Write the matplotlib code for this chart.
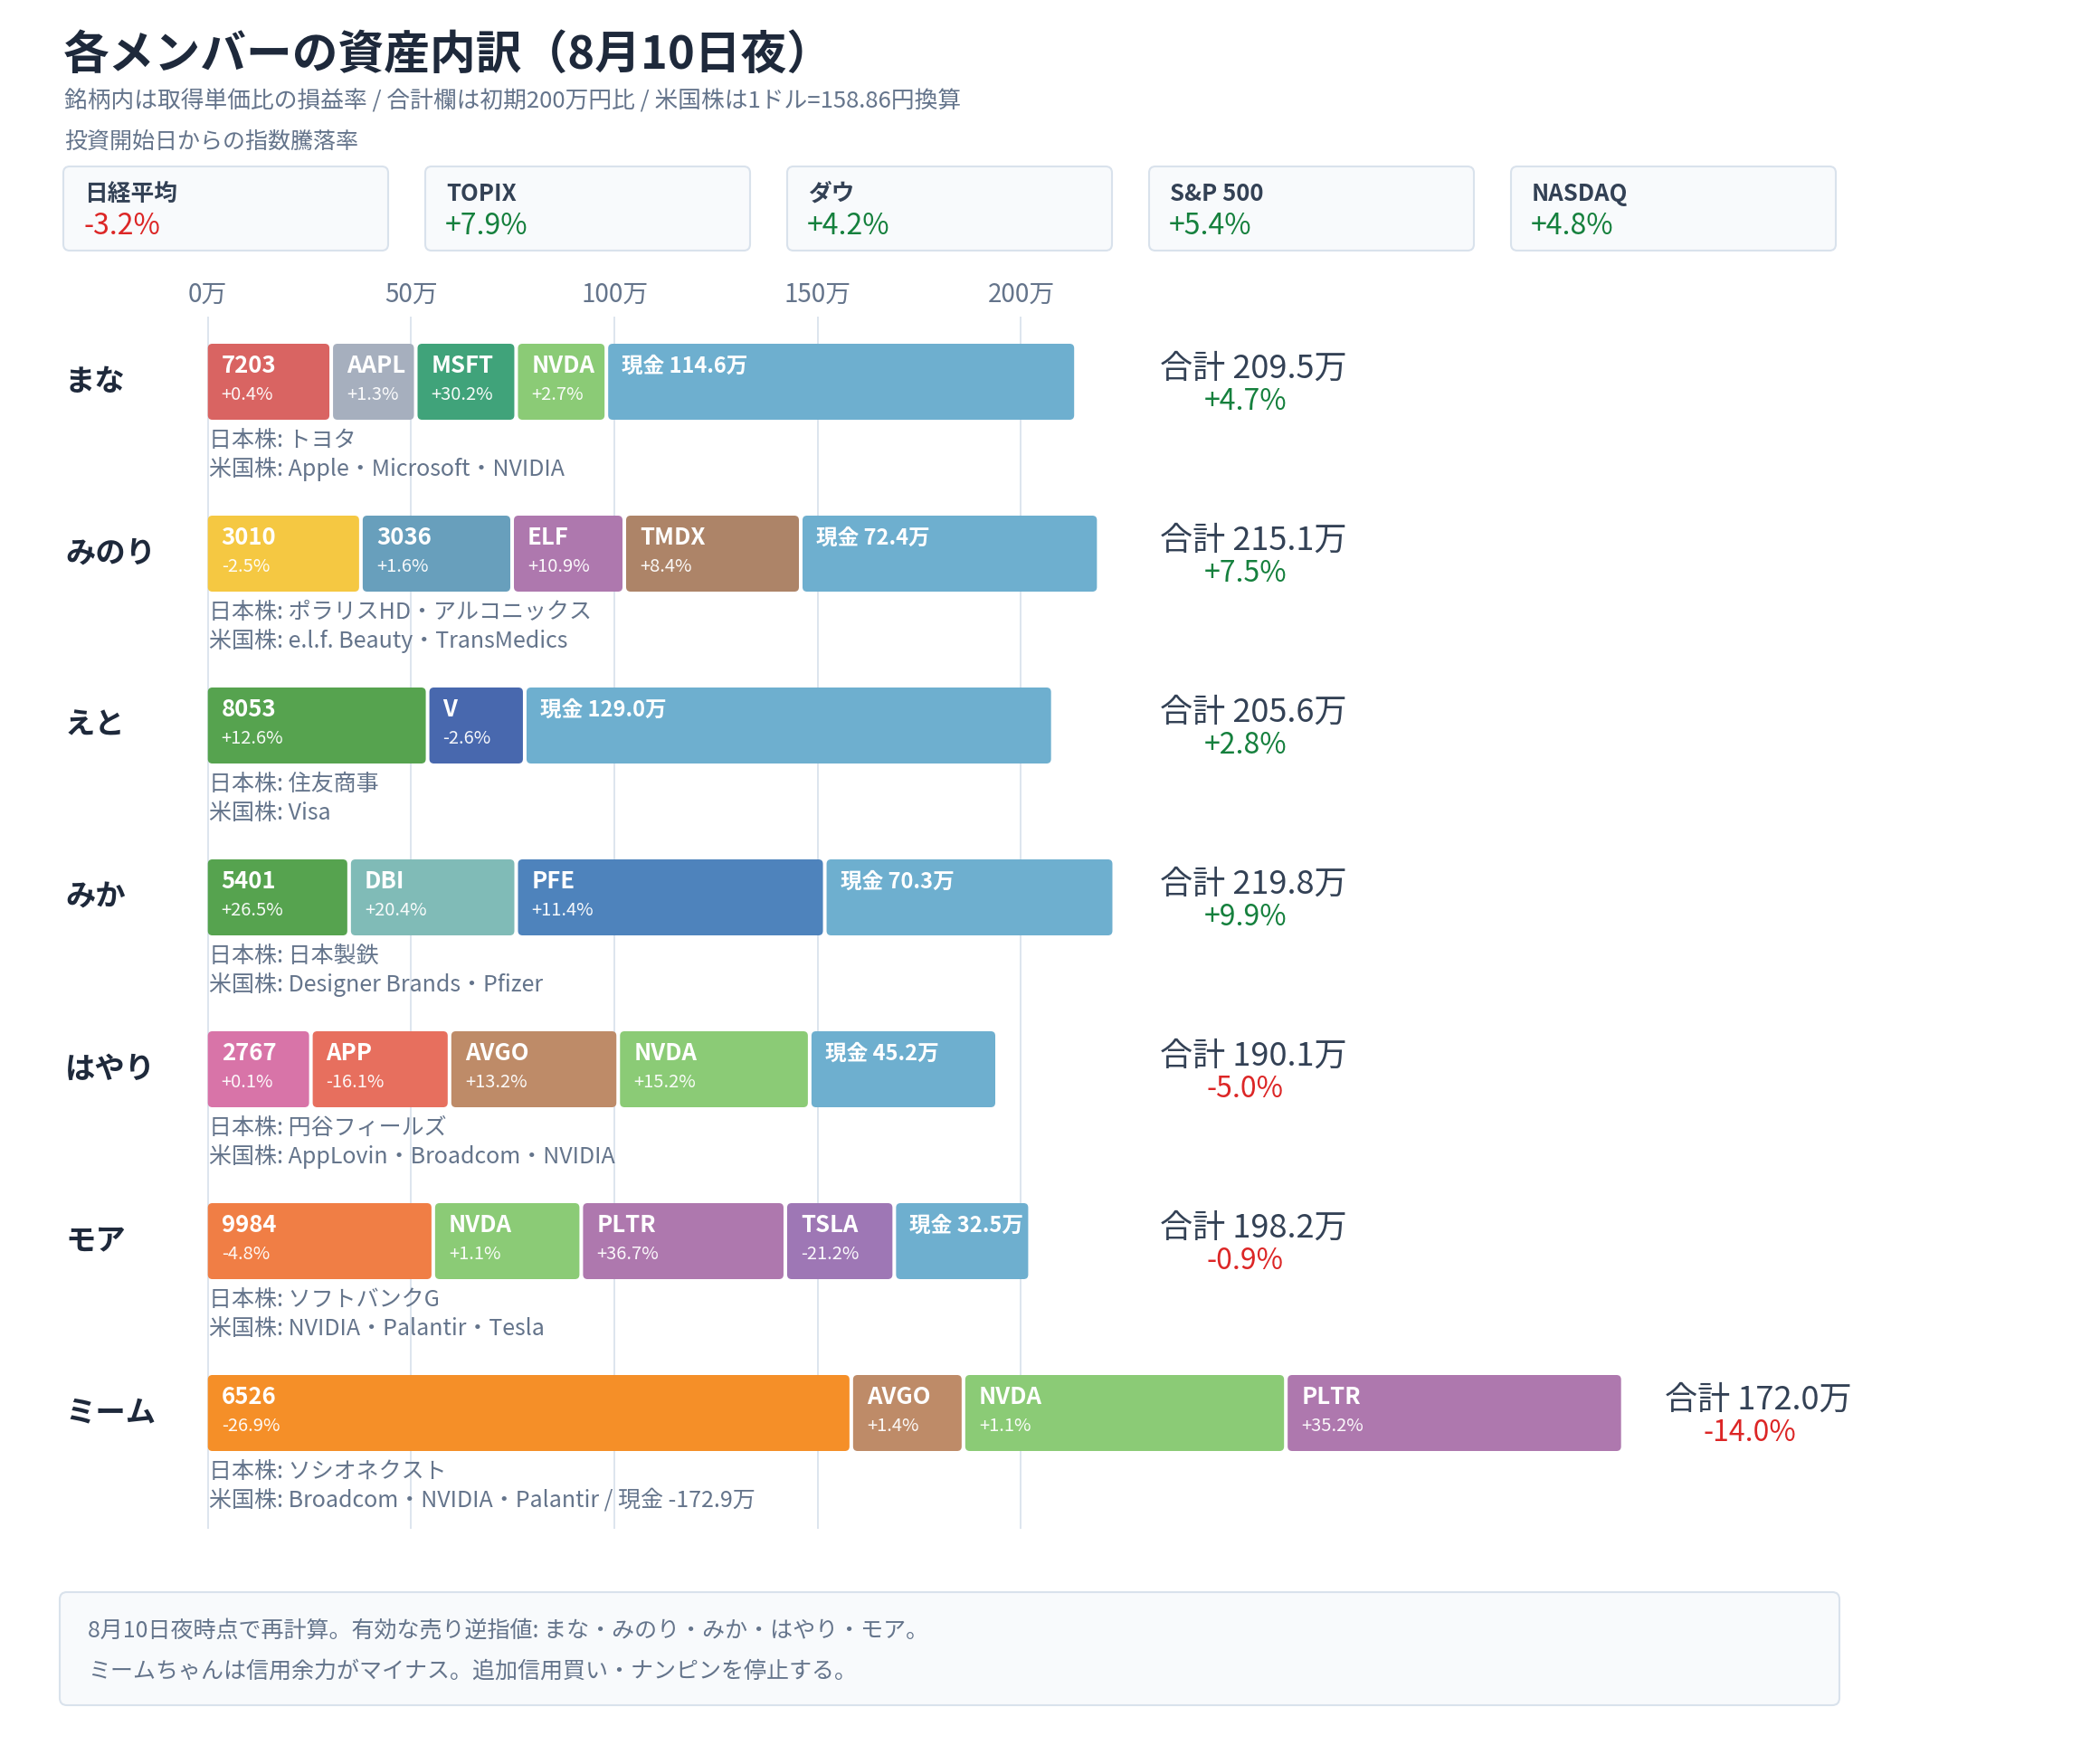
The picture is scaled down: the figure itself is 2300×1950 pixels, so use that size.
import matplotlib
matplotlib.use("Agg")
import matplotlib.pyplot as plt
from matplotlib.patches import FancyBboxPatch
import matplotlib.transforms as mtransforms

plt.rcParams['font.family'] = ['Noto Sans CJK JP', 'DejaVu Sans']

# ---------------- data ----------------
title = "各メンバーの資産内訳（8月10日夜）"
subtitle = "銘柄内は取得単価比の損益率 / 合計欄は初期200万円比 / 米国株は1ドル=158.86円換算"
index_caption = "投資開始日からの指数騰落率"

index_names = ["日経平均", "TOPIX", "ダウ", "S&P 500", "NASDAQ"]
index_changes = [-3.2, 7.9, 4.2, 5.4, 4.8]

members = ["まな", "みのり", "えと", "みか", "はやり", "モア", "ミーム"]

tickers = [
    ["7203", "AAPL", "MSFT", "NVDA"],
    ["3010", "3036", "ELF", "TMDX"],
    ["8053", "V"],
    ["5401", "DBI", "PFE"],
    ["2767", "APP", "AVGO", "NVDA"],
    ["9984", "NVDA", "PLTR", "TSLA"],
    ["6526", "AVGO", "NVDA", "PLTR"],
]
stock_values = [  # 万円
    [29.9, 19.9, 23.8, 21.3],
    [37.2, 36.3, 26.7, 42.5],
    [53.6, 23.0],
    [34.3, 40.2, 75.0],
    [24.9, 33.2, 40.6, 46.2],
    [55.0, 35.5, 49.3, 25.9],
    [157.8, 26.7, 78.4, 82.0],
]
stock_returns = [  # %
    [0.4, 1.3, 30.2, 2.7],
    [-2.5, 1.6, 10.9, 8.4],
    [12.6, -2.6],
    [26.5, 20.4, 11.4],
    [0.1, -16.1, 13.2, 15.2],
    [-4.8, 1.1, 36.7, -21.2],
    [-26.9, 1.4, 1.1, 35.2],
]
cash = [114.6, 72.4, 129.0, 70.3, 45.2, 32.5, -172.9]
totals = [209.5, 215.1, 205.6, 219.8, 190.1, 198.2, 172.0]
total_returns = [4.7, 7.5, 2.8, 9.9, -5.0, -0.9, -14.0]

jp_names = ["トヨタ", "ポラリスHD・アルコニックス", "住友商事", "日本製鉄",
            "円谷フィールズ", "ソフトバンクG", "ソシオネクスト"]
us_names = ["Apple・Microsoft・NVIDIA", "e.l.f. Beauty・TransMedics", "Visa",
            "Designer Brands・Pfizer", "AppLovin・Broadcom・NVIDIA",
            "NVIDIA・Palantir・Tesla", "Broadcom・NVIDIA・Palantir"]

x_ticks = [0, 50, 100, 150, 200]
x_tick_labels = ["0万", "50万", "100万", "150万", "200万"]

footer_lines = [
    "8月10日夜時点で再計算。有効な売り逆指値: まな・みのり・みか・はやり・モア。",
    "ミームちゃんは信用余力がマイナス。追加信用買い・ナンピンを停止する。",
]

# ---------------- styles ----------------
colors = {
    "7203": "#d96462", "AAPL": "#a6afbe", "MSFT": "#40a37a", "NVDA": "#8bcb76",
    "3010": "#f5c842", "3036": "#689fbc", "ELF": "#ae78ae", "TMDX": "#ad8468",
    "8053": "#56a34f", "V": "#4868ae", "5401": "#56a34f", "DBI": "#80bbb7",
    "PFE": "#4e83bc", "2767": "#d874a8", "APP": "#e76f5e", "AVGO": "#be8b68",
    "9984": "#f07e45", "PLTR": "#ae78ae", "TSLA": "#9e77b5", "6526": "#f58f28",
}
CASH_COLOR = "#6eafcf"
GREEN = "#15803d"
RED = "#dc2626"
DARK = "#1e293b"
SLATE = "#334155"
MUTED = "#64748b"

W, H = 2300, 1950
fig = plt.figure(figsize=(W / 100, H / 100), dpi=100)
fig.patch.set_facecolor("white")


def fx(px):
    return px / W


def fy(py):
    return 1 - py / H


# title block
fig.text(fx(70), fy(61), title, fontsize=36.5, fontweight="bold", color=DARK,
         ha="left", va="center")
fig.text(fx(71), fy(112), subtitle, fontsize=18.5, color=MUTED, ha="left", va="center")
fig.text(fx(71), fy(157), index_caption, fontsize=18, color=MUTED, ha="left", va="center")

# index cards
for i, (name, chg) in enumerate(zip(index_names, index_changes)):
    x0 = 70 + 400 * i
    card = FancyBboxPatch((fx(x0), fy(277)), 359 / W, 93 / H,
                          boxstyle=f"round,pad=0,rounding_size={7 / W}",
                          mutation_aspect=W / H, transform=fig.transFigure,
                          facecolor="#f8fafc", edgecolor="#d9e2ec", lw=1.5)
    fig.add_artist(card)
    fig.text(fx(x0 + 23), fy(214), name, fontsize=18.5, fontweight="bold",
             color=SLATE, ha="left", va="center")
    fig.text(fx(x0 + 22), fy(250), f"{chg:+.1f}%", fontsize=23,
             color=GREEN if chg >= 0 else RED, ha="left", va="center")

# main bar axes
PX_PER_MAN = 4.494
ZERO_PX = 229.7
ROW_PX = 190
ROW0_PX = 422
AX_TOP, AX_BOT = 350, 1690
x_left = -0.6
ax_left_px = ZERO_PX + x_left * PX_PER_MAN
x_right = (W - ZERO_PX) / PX_PER_MAN
ax = fig.add_axes([fx(ax_left_px), 1 - AX_BOT / H, 1 - ax_left_px / W,
                   (AX_BOT - AX_TOP) / H])
ax.set_xlim(x_left, x_right)
ax.set_ylim((AX_BOT - ROW0_PX) / ROW_PX, (AX_TOP - ROW0_PX) / ROW_PX)
ax.set_facecolor("none")
for s in ax.spines.values():
    s.set_visible(False)
ax.set_yticks([])
ax.set_xticks(x_ticks)
ax.set_xticklabels(x_tick_labels)
ax.xaxis.tick_top()
ax.tick_params(axis="x", length=0, pad=6.5, labelsize=20, labelcolor=MUTED)
ax.grid(axis="x", color="#dde5ee", lw=1.4)
ax.set_axisbelow(True)

bar_h = 84 / ROW_PX
gap = 4 / PX_PER_MAN
r_man = 5 / PX_PER_MAN
aspect = PX_PER_MAN / ROW_PX
name_trans = mtransforms.blended_transform_factory(fig.transFigure, ax.transData)


def seg(left, width, yc, color):
    p = FancyBboxPatch((left, yc - bar_h / 2), width, bar_h,
                       boxstyle=f"round,pad=0,rounding_size={r_man}",
                       mutation_aspect=aspect, facecolor=color,
                       edgecolor="none", zorder=3)
    ax.add_patch(p)


for i, m in enumerate(members):
    yc = i
    top = yc - bar_h / 2
    bottom = yc + bar_h / 2
    ax.text(fx(72), yc, m, transform=name_trans, fontsize=24, fontweight="bold",
            color=DARK, ha="left", va="center", clip_on=False)
    left = 0.0
    for t, v, r in zip(tickers[i], stock_values[i], stock_returns[i]):
        seg(left, v, yc, colors[t])
        ax.annotate(t, xy=(left, top), xytext=(15, -25), textcoords="offset pixels",
                    fontsize=18.5, fontweight="bold", color="white",
                    ha="left", va="center", zorder=4)
        ax.annotate(f"{r:+.1f}%", xy=(left, top), xytext=(15, -57),
                    textcoords="offset pixels", fontsize=14.5, color="white",
                    alpha=0.95, ha="left", va="center", zorder=4)
        left += v + gap
    if cash[i] > 0:
        seg(left, cash[i], yc, CASH_COLOR)
        ax.annotate(f"現金 {cash[i]:.1f}万", xy=(left, top), xytext=(15, -25),
                    textcoords="offset pixels", fontsize=17, fontweight="bold",
                    color="white", ha="left", va="center", zorder=4)
        left += cash[i]
    else:
        left -= gap
    extent = left
    us_text = f"米国株: {us_names[i]}"
    if cash[i] < 0:
        us_text += f" / 現金 {cash[i]:.1f}万"
    ax.annotate(f"日本株: {jp_names[i]}", xy=(0, bottom), xytext=(1, -23),
                textcoords="offset pixels", fontsize=18, color=MUTED,
                ha="left", va="center", annotation_clip=False)
    ax.annotate(us_text, xy=(0, bottom), xytext=(1, -55),
                textcoords="offset pixels", fontsize=18, color=MUTED,
                ha="left", va="center", annotation_clip=False)
    tx = max(extent, 223.5) + 10.7
    ax.annotate(f"合計 {totals[i]:.1f}万", xy=(tx, top), xytext=(0, -28),
                textcoords="offset pixels", fontsize=26, color=SLATE,
                ha="left", va="center", annotation_clip=False)
    tr = total_returns[i]
    ax.annotate(f"{tr:+.1f}%", xy=(tx, top), xytext=(94, -64),
                textcoords="offset pixels", fontsize=23,
                color=GREEN if tr >= 0 else RED, ha="center", va="center",
                annotation_clip=False)

# footer note
note = FancyBboxPatch((fx(66), fy(1885)), (2033 - 66) / W, 125 / H,
                      boxstyle=f"round,pad=0,rounding_size={8 / W}",
                      mutation_aspect=W / H, transform=fig.transFigure,
                      facecolor="#f8fafc", edgecolor="#d9e2ec", lw=1.5)
fig.add_artist(note)
for k, line in enumerate(footer_lines):
    fig.text(fx(97), fy(1803 + 45 * k), line, fontsize=18, color=MUTED,
             ha="left", va="center")

fig.savefig("out.png", dpi=100, facecolor="white")
